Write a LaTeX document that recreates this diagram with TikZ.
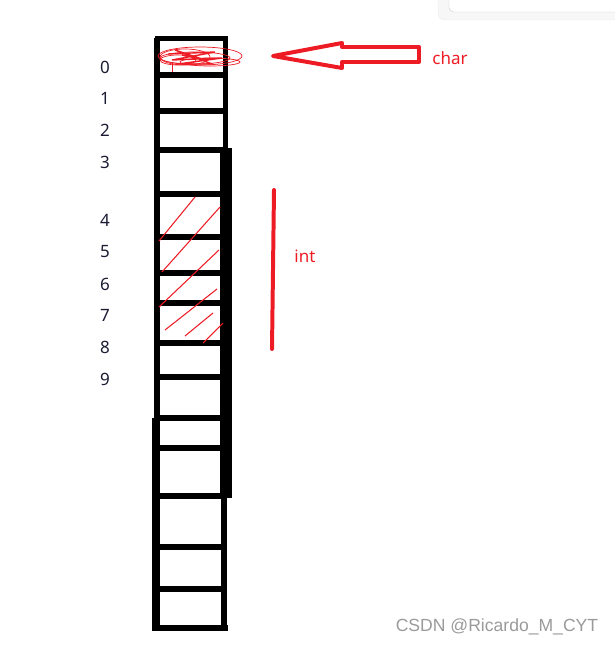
\documentclass[tikz,border=0pt]{standalone}
\usepackage{fontspec}
\setmainfont{Noto Sans}
\newfontfamily\wmfont{Liberation Sans}
\usepackage{xcolor}
\definecolor{paintred}{HTML}{ED1C24}
\definecolor{numblue}{HTML}{1B1B33}
\definecolor{wmgray}{HTML}{9A9A9A}

\begin{document}
\begin{tikzpicture}[x=0.03cm, y=-0.03cm,
		cell/.style={draw=black, line width=4.3pt},
		hatch/.style={draw=paintred, line width=0.9pt},
		numlabel/.style={text=numblue, font=\fontsize{14.5}{16}\selectfont},
		redlabel/.style={text=paintred, font=\fontsize{14.5}{16}\selectfont}]
	\useasboundingbox (0,0) rectangle (614,646);

	% popup edge, top right
	\draw[draw=gray!15, fill=gray!6, rounded corners=6] (438,-20) rectangle (640,20);
	\draw[draw=gray!35, fill=white, rounded corners=4] (449,-20) rectangle (640,12);

	% memory column
	\draw [cell] (157,38) -- (157,418);
	\draw [draw=black, line width=6.8pt] (156,418) -- (156,630);
	\draw [cell] (225.5,38) -- (225.5,150);
	\draw [draw=black, line width=10.2pt] (226,148) -- (226,498);
	\draw [cell] (224,498) -- (224,630);

	\draw [cell] (155,38.5) -- (228,38.5);
	\draw [cell] (157,75) -- (225,75);
	\draw [cell] (157,111) -- (225,111);
	\draw [cell] (157,150) -- (225,150);
	\draw [cell] (157,194) -- (225,194);
	\draw [cell] (157,237) -- (225,237);
	\draw [cell] (157,273) -- (225,273);
	\draw [cell] (157,303) -- (225,303);
	\draw [cell] (157,343) -- (225,343);
	\draw [cell] (157,377) -- (225,377);
	\draw [cell] (157,418) -- (225,418);
	\draw [cell] (157,448) -- (225,448);
	\draw [cell] (157,496) -- (225,496);
	\draw [cell] (157,547) -- (225,547);
	\draw [cell] (157,589) -- (225,589);
	\draw [cell] (152,628) -- (228,628);

	% scribble on cell 0
	\draw [hatch, line width=0.6pt] (185,57) ellipse (25 and 8);
	\draw [hatch, line width=0.6pt] (195,58) ellipse (35 and 6);
	\draw [hatch, line width=0.6pt] (200,56) ellipse (42 and 9);
	\draw [hatch, line width=0.6pt] (178,60) ellipse (18 and 5);
	\draw [hatch, line width=0.6pt] (210,62) ellipse (30 and 4);
	\draw [hatch, line width=1.2pt] (168,54) -- (215,52) -- (172,60) -- (222,58) -- (178,64) -- (212,64)
		-- (175,50) -- (205,60) -- (182,55);
	\draw [hatch, line width=0.6pt] (172,62) -- (172,72);

	% hatching on the int
	\draw [hatch] (159,241) -- (195,197);
	\draw [hatch] (162,272) -- (220,207);
	\draw [hatch] (159,307) -- (219,250);
	\draw [hatch] (165,330) -- (217,289);
	\draw [hatch] (185,336) -- (213,313);
	\draw [hatch] (203,343) -- (223,323);

	% addresses
	\node [numlabel] (n0) at (105,67) {0};
	\node [numlabel] (n1) at (105,98) {1};
	\node [numlabel] (n2) at (105,130) {2};
	\node [numlabel] (n3) at (105,162) {3};
	\node [numlabel] (n4) at (105,220) {4};
	\node [numlabel] (n5) at (105,252) {5};
	\node [numlabel] (n6) at (105,284) {6};
	\node [numlabel] (n7) at (105,315) {7};
	\node [numlabel] (n8) at (105,347) {8};
	\node [numlabel] (n9) at (105,379) {9};

	% char arrow
	\draw [draw=paintred, line width=3.4pt, line join=round]
		(273,56) -- (342,43) -- (342,47) -- (419,47) -- (419,62) -- (342,62) -- (342,68) -- cycle;
	\node [redlabel] (charlab) at (450,58) {char};

	% int bracket
	\coordinate (inttop) at (274,190);
	\coordinate (intbot) at (272,349);
	\draw [draw=paintred, line width=3.4pt, line cap=round] (inttop) -- (intbot);
	\node [redlabel] (intlab) at (305,256) {int};

	% watermark
	\node [text=wmgray, font=\wmfont\fontsize{15}{17}\selectfont] (wm) at (497,627) {CSDN @Ricardo\_M\_CYT};
\end{tikzpicture}
\end{document}
